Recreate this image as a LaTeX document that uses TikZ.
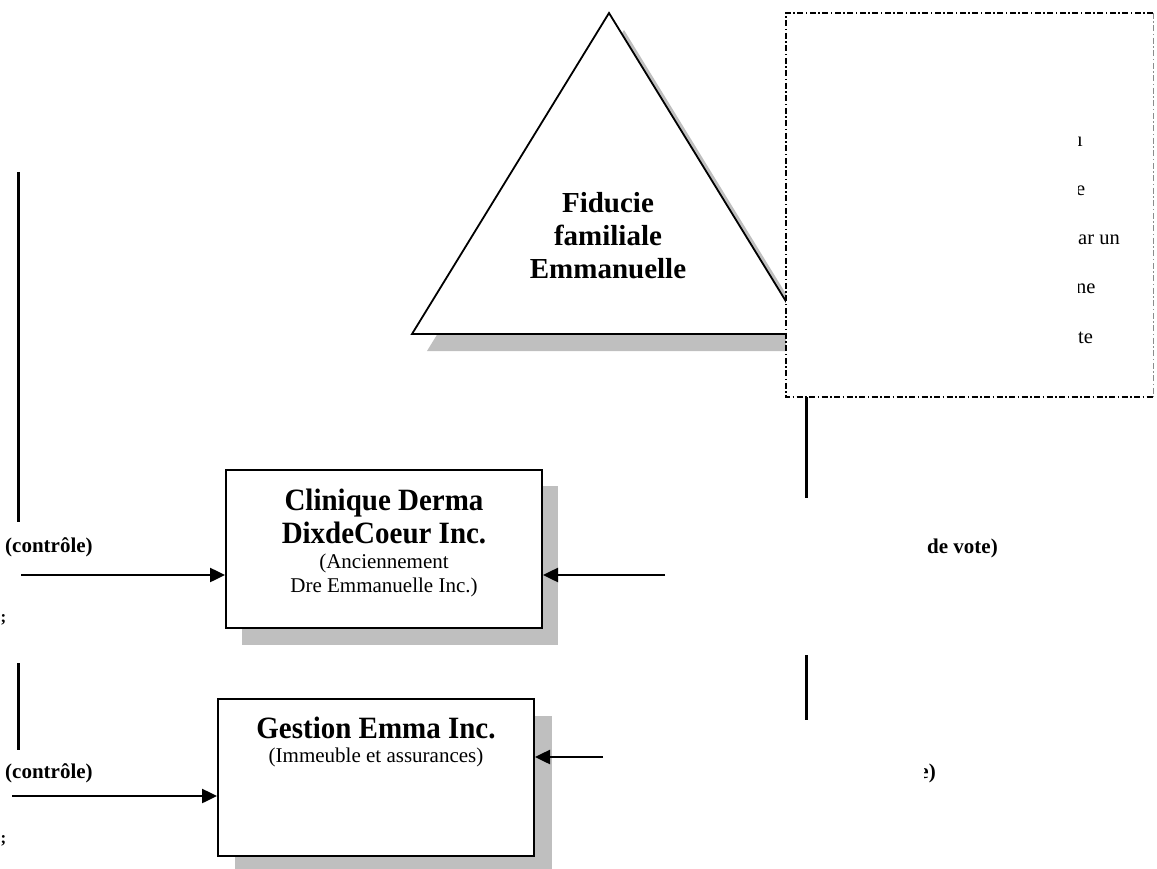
\documentclass[tikz,border=0pt]{standalone}
\usepackage{fontspec}
\setmainfont{Liberation Serif}
\newfontfamily\condserif[FakeStretch=0.935]{Liberation Serif}
\usetikzlibrary{arrows.meta}
\tikzset{
  boxframe/.style={draw=black, line width=2pt, fill=white, rectangle, inner sep=0pt},
  bigbold/.style={inner sep=0pt, anchor=base, font=\fontsize{29}{33}\selectfont\bfseries},
  boxbold/.style={inner sep=0pt, anchor=base, font=\condserif\fontsize{31}{33}\selectfont\bfseries},
  subtext/.style={inner sep=0pt, anchor=base, font=\fontsize{21}{26}\selectfont},
  lbl/.style={inner sep=0pt, anchor=base west, font=\fontsize{21}{26}\selectfont\bfseries},
  notetext/.style={inner sep=0pt, anchor=base west, font=\fontsize{20.5}{25}\selectfont},
  arr/.style={line width=2.5pt, -{Triangle[length=15pt,width=14pt]}},
  vline/.style={line width=3pt},
  dashdot/.style={line width=1.8pt, dash pattern=on 6pt off 2.5pt on 1.5pt off 2.5pt},
}
\begin{document}
\begin{tikzpicture}[x=1pt,y=-1pt]
\useasboundingbox (0,0) rectangle (1157,869);
% triangle
\coordinate (tA) at (609,13);
\coordinate (tL) at (412,334);
\coordinate (tR) at (806,334);
\fill[black!25] ([shift={(15,17)}]tA) -- ([shift={(15,17)}]tL) -- ([shift={(15,17)}]tR) -- cycle;
\draw[line width=1.8pt, fill=white, line join=miter] (tA) -- (tL) -- (tR) -- cycle;
\node[bigbold] (fid1) at (608,213) {Fiducie};
\node[bigbold] (fid2) at (608,246) {familiale};
\node[bigbold] (fid3) at (608,279) {Emmanuelle};
% note box
\node[fill=white, draw=none, minimum width=367pt, minimum height=384pt, inner sep=0pt] (note) at (969.5,205) {};
\draw[dashdot] (note.north east) -- (note.north west) -- (note.south west) -- (note.south east);
\draw[dashdot, black!45, line width=0.9pt] (note.north east) -- (note.south east);
\begin{scope}
\clip (1078,20) rectangle (1150,390);
\node[notetext] (n1) at (1077,147) {ı};
\node[notetext] (n2) at (1076,196) {e};
\node[notetext] (n3) at (1078,245) {ar un};
\node[notetext] (n4) at (1076,293) {ne};
\node[notetext] (n5) at (1078,343) {te};
\end{scope}
% boxes
\fill[black!25] (242,486) rectangle (558,645);
\node[boxframe, minimum width=316pt, minimum height=158pt] (box1) at (384,549) {};
\fill[black!25] (235,716) rectangle (552,873);
\node[boxframe, minimum width=316pt, minimum height=157pt] (box2) at (376,777.5) {};
\node[boxbold] (c1) at (384,510) {Clinique Derma};
\node[boxbold] (c2) at (384,543) {DixdeCoeur Inc.};
\node[subtext] (c3) at (384,568) {(Anciennement};
\node[subtext] (c4) at (384,592) {Dre Emmanuelle Inc.)};
\node[boxbold] (g1) at (376,738) {Gestion Emma Inc.};
\node[subtext] (g2) at (376,762) {(Immeuble et assurances)};
% labels
\node[lbl] (l1) at (5,552) {(contrôle)};
\node[lbl] (l2) at (5,778) {(contrôle)};
\node[lbl] (r1) at (927,553) {de vote)};
\begin{scope}
\clip (924,740) rectangle (960,800);
\node[lbl, anchor=base east] (r2) at (936,778) {e)};
\end{scope}
\node[lbl, font=\fontsize{17}{20}\selectfont\bfseries] (s1) at (0.5,622) {;};
\node[lbl, font=\fontsize{17}{20}\selectfont\bfseries] (s2) at (0.5,843) {;};
% vertical lines
\coordinate (v1a) at (18,172); \coordinate (v1b) at (18,522);
\coordinate (v2a) at (18,663); \coordinate (v2b) at (18,750);
\coordinate (v3b) at (806,498);
\coordinate (v4a) at (806,655); \coordinate (v4b) at (806,720);
\draw[vline] (v1a) -- (v1b);
\draw[vline] (v2a) -- (v2b);
\draw[vline] (note.south west -| v3b) -- (v3b);
\draw[vline] (v4a) -- (v4b);
% arrows
\coordinate (a1) at (21,575);
\coordinate (a2) at (12,796);
\coordinate (a3) at (665,575);
\coordinate (a4) at (603,757);
\draw[arr] (a1) -- (a1 -| box1.west);
\draw[arr] (a2) -- (a2 -| box2.west);
\draw[arr] (a3) -- (a3 -| box1.east);
\draw[arr] (a4) -- (a4 -| box2.east);
\end{tikzpicture}
\end{document}
